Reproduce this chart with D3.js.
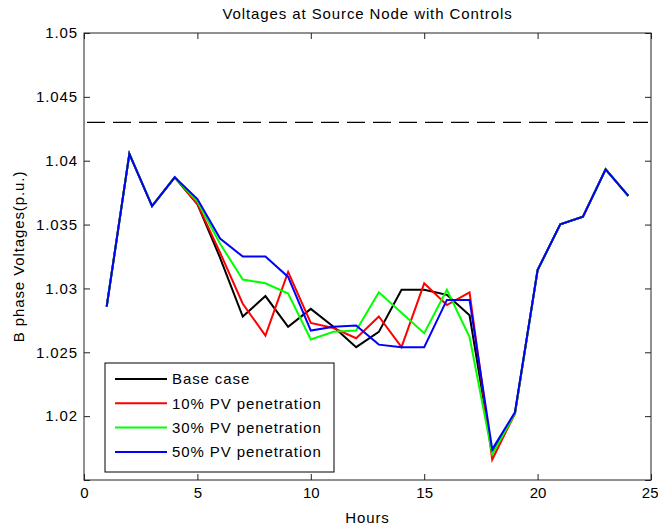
<!DOCTYPE html>
<html>
<head>
<meta charset="utf-8">
<script src="https://cdn.jsdelivr.net/npm/d3@7"></script>
<style>
  html, body { margin: 0; padding: 0; background: #fff; }
  svg { display: block; }
  text { font-family: "Liberation Sans", Arial, sans-serif; fill: #000; letter-spacing: 0.9px; }
</style>
</head>
<body>
<svg id="chart" width="658" height="531"></svg>
<script>
// Hourly B-phase voltage at the source node (p.u.)
const hours = [1, 2, 3, 4, 5, 6, 7, 8, 9, 10, 11, 12, 13, 14, 15, 16, 17, 18, 19, 20, 21, 22, 23, 24];

const baseCase = [1.02857, 1.04053, 1.03645, 1.0387, 1.0366, 1.0324, 1.0278, 1.0294, 1.0270, 1.0284, 1.0270, 1.0254,
                  1.0266, 1.0299, 1.0299, 1.0295, 1.0279, 1.0171, 1.0202, 1.03144, 1.03502, 1.03562, 1.03933, 1.03724];
const pv10 = [1.02857, 1.04053, 1.03645, 1.0387, 1.0366, 1.0328, 1.0288, 1.0263, 1.0313, 1.0273, 1.0269, 1.0261,
              1.0278, 1.0254, 1.0304, 1.0287, 1.0297, 1.0166, 1.0202, 1.03144, 1.03502, 1.03562, 1.03933, 1.03724];
const pv30 = [1.02857, 1.04053, 1.03645, 1.0387, 1.0368, 1.0335, 1.0307, 1.0304, 1.0296, 1.0260, 1.0266, 1.0267,
              1.0297, 1.0281, 1.0265, 1.0299, 1.0262, 1.0170, 1.0202, 1.03144, 1.03502, 1.03562, 1.03933, 1.03724];
const pv50 = [1.02857, 1.04053, 1.03645, 1.0387, 1.0370, 1.0339, 1.0325, 1.0325, 1.0309, 1.0267, 1.0270, 1.0271,
              1.0256, 1.0254, 1.0254, 1.0291, 1.0291, 1.0174, 1.0203, 1.03144, 1.03502, 1.03562, 1.03933, 1.03724];

const seriesNames = ["Base case", "10% PV penetration", "30% PV penetration", "50% PV penetration"];
const seriesValues = [baseCase, pv10, pv30, pv50];
const seriesColors = ["#000000", "#ff0000", "#00ff00", "#0000ff"];

// Upper voltage limit shown as a dashed reference line
const voltageLimit = 1.043;

const xTicks = [0, 5, 10, 15, 20, 25];
const xTickLabels = ["0", "5", "10", "15", "20", "25"];
const yTicks = [1.015, 1.02, 1.025, 1.03, 1.035, 1.04, 1.045, 1.05];
const yTickLabels = ["", "1.02", "1.025", "1.03", "1.035", "1.04", "1.045", "1.05"];

const titleText = "Voltages at Source Node with Controls";
const xLabelText = "Hours";
const yLabelText = "B phase Voltages(p.u.)";

// Layout
const plot = { left: 84, top: 33, right: 651, bottom: 480 };
const svg = d3.select("#chart");

const x = d3.scaleLinear().domain([0, 25]).range([plot.left, plot.right]);
const y = d3.scaleLinear().domain([1.015, 1.05]).range([plot.bottom, plot.top]);

const fontSize = 15;
const tickLen = 6;

// Axes with inward ticks on all four sides
const xLabelFmt = d => xTickLabels[xTicks.indexOf(d)];
const yLabelFmt = d => yTickLabels[yTicks.indexOf(d)];

const styleAxis = g => {
  g.select(".domain").remove();
  g.selectAll(".tick line").attr("stroke", "#222").attr("stroke-width", 1);
  g.selectAll(".tick text").style("font-size", fontSize + "px").attr("fill", "#000");
};

const xAxisG = svg.append("g")
  .attr("transform", `translate(0,${plot.bottom})`)
  .call(d3.axisBottom(x).tickValues(xTicks).tickFormat(xLabelFmt).tickSizeInner(-tickLen).tickSizeOuter(0).tickPadding(7))
  .call(styleAxis);
// keep the rightmost label inside the figure edge
xAxisG.selectAll(".tick text")
  .style("letter-spacing", "0px")
  .attr("text-anchor", d => d === xTicks[xTicks.length - 1] ? "end" : "middle")
  .attr("dx", d => d === xTicks[xTicks.length - 1] ? "7" : "0");

svg.append("g")
  .attr("transform", `translate(0,${plot.top})`)
  .call(d3.axisTop(x).tickValues(xTicks).tickFormat("").tickSizeInner(-tickLen).tickSizeOuter(0))
  .call(styleAxis);

svg.append("g")
  .attr("transform", `translate(${plot.left},0)`)
  .call(d3.axisLeft(y).tickValues(yTicks).tickFormat(yLabelFmt).tickSizeInner(-tickLen).tickSizeOuter(0).tickPadding(6))
  .call(styleAxis);

svg.append("g")
  .attr("transform", `translate(${plot.right},0)`)
  .call(d3.axisRight(y).tickValues(yTicks).tickFormat("").tickSizeInner(-tickLen).tickSizeOuter(0))
  .call(styleAxis);

// Plot box
svg.append("rect")
  .attr("x", plot.left).attr("y", plot.top)
  .attr("width", plot.right - plot.left).attr("height", plot.bottom - plot.top)
  .attr("fill", "none").attr("stroke", "#222").attr("stroke-width", 1);

// Dashed voltage limit
svg.append("line")
  .attr("x1", plot.left + 3).attr("x2", plot.right - 3)
  .attr("y1", y(voltageLimit)).attr("y2", y(voltageLimit))
  .attr("stroke", "#000").attr("stroke-width", 1.3)
  .attr("stroke-dasharray", "18,8");

// Series lines
const line = d3.line()
  .x((d, i) => x(hours[i]))
  .y(d => y(d));

seriesValues.forEach((vals, k) => {
  svg.append("path")
    .datum(vals)
    .attr("d", line)
    .attr("fill", "none")
    .attr("stroke", seriesColors[k])
    .attr("stroke-width", 2)
    .attr("stroke-linejoin", "miter");
});

// Title and axis labels
svg.append("text")
  .attr("x", (plot.left + plot.right) / 2).attr("y", 19)
  .attr("text-anchor", "middle")
  .style("font-size", fontSize + "px")
  .text(titleText);

svg.append("text")
  .attr("x", (plot.left + plot.right) / 2).attr("y", 523)
  .attr("text-anchor", "middle")
  .style("font-size", fontSize + "px")
  .text(xLabelText);

svg.append("text")
  .attr("transform", `translate(24,${(plot.top + plot.bottom) / 2}) rotate(-90)`)
  .attr("text-anchor", "middle")
  .style("font-size", fontSize + "px")
  .text(yLabelText);

// Legend
const legend = { x: 105, y: 363, w: 229, h: 109, row: 24.3, first: 16 };
const lg = svg.append("g");
lg.append("rect")
  .attr("x", legend.x).attr("y", legend.y)
  .attr("width", legend.w).attr("height", legend.h)
  .attr("fill", "#fff").attr("stroke", "#000").attr("stroke-width", 1);

seriesNames.forEach((name, k) => {
  const cy = legend.y + legend.first + k * legend.row;
  lg.append("line")
    .attr("x1", legend.x + 10).attr("x2", legend.x + 62)
    .attr("y1", cy).attr("y2", cy)
    .attr("stroke", seriesColors[k]).attr("stroke-width", 2);
  lg.append("text")
    .attr("x", legend.x + 67).attr("y", cy)
    .attr("dy", "0.35em")
    .style("font-size", fontSize + "px")
    .text(name);
});
</script>
</body>
</html>
